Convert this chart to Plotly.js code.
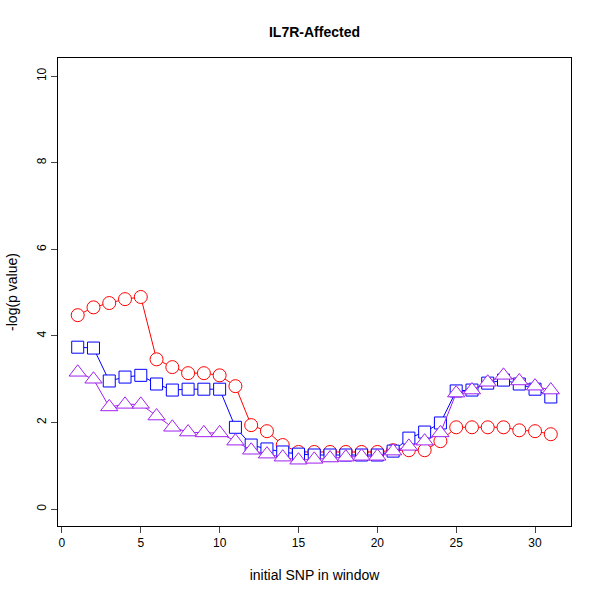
<!DOCTYPE html>
<html>
<head>
<script src="https://cdn.plot.ly/plotly-3.0.1.min.js"></script>
</head>
<body style="margin:0">
<div id="graph" style="width:600px;height:600px"></div>
<script>
// initial SNP index
const snp = [];
for (let i = 1; i <= 31; i++) snp.push(i);

const redVals = [4.48, 4.66, 4.76, 4.85, 4.9, 3.46, 3.28, 3.14, 3.14, 3.09, 2.84, 1.94, 1.8, 1.48, 1.32,
  1.32, 1.32, 1.32, 1.32, 1.32, 1.36, 1.36, 1.36, 1.57, 1.89, 1.89, 1.89, 1.89, 1.82, 1.8, 1.73];
const blueVals = [3.74, 3.72, 2.96, 3.05, 3.09, 2.89, 2.75, 2.77, 2.77, 2.77, 1.89, 1.48, 1.39, 1.32, 1.27,
  1.25, 1.25, 1.25, 1.25, 1.25, 1.34, 1.64, 1.78, 1.99, 2.73, 2.75, 2.91, 2.98, 2.89, 2.77, 2.59];
const purpleVals = [3.16, 3.0, 2.36, 2.42, 2.42, 2.15, 1.89, 1.78, 1.76, 1.76, 1.57, 1.36, 1.27, 1.2, 1.13,
  1.15, 1.18, 1.2, 1.22, 1.22, 1.34, 1.45, 1.57, 1.76, 2.68, 2.75, 2.93, 3.09, 2.96, 2.84, 2.75];

const xTicks = [0, 5, 10, 15, 20, 25, 30];
const yTicks = [0, 2, 4, 6, 8, 10];

function makeTrace(vals, color, symbol, size)
{
  return {
    x: snp, y: vals, type: 'scatter', mode: 'lines+markers',
    line: {color: color, width: 1},
    marker: {symbol: symbol, size: size, color: 'white', line: {color: color, width: 1}},
    cliponaxis: false
  };
}

let layout =
{
  width: 600, height: 600,
  margin: {l: 58, r: 29, t: 58, b: 74},
  showlegend: false,
  paper_bgcolor: 'white', plot_bgcolor: 'white',
  font: {family: 'Liberation Sans, Arial, sans-serif', size: 12, color: 'black'},
  title: {text: '<b>IL7R-Affected</b>', xref: 'paper', x: 0.5, y: 0.955, font: {size: 14}},
  xaxis: {
    range: [-0.25, 32.28], autorange: false, tickvals: xTicks, ticks: 'outside', ticklen: 6,
    showgrid: false, zeroline: false, showline: true, mirror: true, linecolor: 'black',
    title: {text: 'initial SNP in window', standoff: 20}
  },
  yaxis: {
    range: [-0.39, 10.42], autorange: false, tickvals: yTicks, ticks: 'outside', ticklen: 6,
    tickangle: -90, showgrid: false, zeroline: false, showline: true, mirror: true, linecolor: 'black',
    title: {text: '-log(p value)', standoff: 14}
  }
};

Plotly.newPlot('graph', [
  makeTrace(redVals, 'red', 'circle', 13),
  makeTrace(blueVals, 'blue', 'square', 12),
  makeTrace(purpleVals, '#a020f0', 'triangle-up', 15)
], layout, {displayModeBar: false});
</script>
</body>
</html>
